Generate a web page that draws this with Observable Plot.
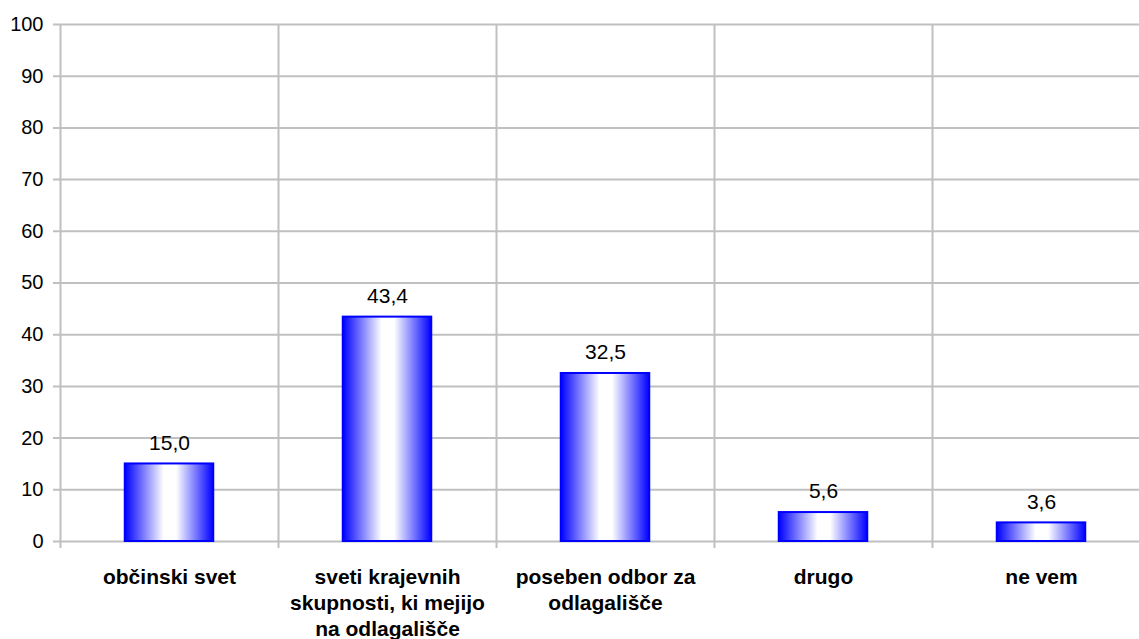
<!DOCTYPE html>
<html>
<head>
<meta charset="utf-8">
<script src="https://cdn.jsdelivr.net/npm/d3@7"></script>
<script src="https://cdn.jsdelivr.net/npm/@observablehq/plot@0.6"></script>
<style>
  html, body { margin: 0; padding: 0; background: #fff; overflow: hidden; }
  #chart svg { display: block; }
</style>
</head>
<body>
<div id="chart"></div>
<script>
const categories = [
  "občinski svet",
  "sveti krajevnih\nskupnosti, ki mejijo\nna odlagališče",
  "poseben odbor za\nodlagališče",
  "drugo",
  "ne vem"
];
const values = [15.0, 43.4, 32.5, 5.6, 3.6];
const yTicks = [0, 10, 20, 30, 40, 50, 60, 70, 80, 90, 100];

const data = categories.map((c, i) => ({category: c, index: i, value: values[i]}));
const boundaries = d3.range(categories.length + 1);
const halfBar = 0.203;

const defs = () => {
  const g = d3.create("svg:defs");
  const lg = g.append("linearGradient").attr("id", "barGrad")
    .attr("x1", "0").attr("x2", "1").attr("y1", "0").attr("y2", "0");
  [[0, "#0000ff"], [0.44, "#ffffff"], [0.58, "#ffffff"], [1, "#0000ff"]].forEach(([o, c]) =>
    lg.append("stop").attr("offset", o).attr("stop-color", c));
  return g.node();
};

const chart = Plot.plot({
  width: 1139,
  height: 639,
  marginTop: 24,
  marginBottom: 98,
  marginLeft: 60,
  marginRight: 0,
  style: {fontFamily: "Arial, 'Liberation Sans', sans-serif", fontSize: "20px", color: "#000", background: "#fff"},
  x: {domain: [0, categories.length], range: [60, 1150], axis: null},
  y: {domain: [0, 100], axis: null},
  marks: [
    defs,
    Plot.ruleY(yTicks, {y: d => d, stroke: "#c0c0c0", strokeWidth: 2, insetLeft: -7}),
    Plot.ruleX(boundaries, {x: d => d, stroke: "#c0c0c0", strokeWidth: 2, insetBottom: -7}),
    Plot.axisY(yTicks, {tickSize: 0, tickPadding: 17, fontSize: 20, fill: "#000", label: null, tickFormat: d => String(d)}),
    Plot.rectY(data, {
      x1: d => d.index + 0.5 - halfBar,
      x2: d => d.index + 0.5 + halfBar,
      y1: 0,
      y2: "value",
      fill: "url(#barGrad)",
      stroke: "#0000ff",
      strokeWidth: 2
    }),
    Plot.text(data, {
      x: d => d.index + 0.5,
      y: "value",
      text: d => d.value.toFixed(1).replace(".", ","),
      dy: -21,
      fontSize: 21,
      fill: "#000"
    }),
    Plot.text(data, {
      x: d => d.index + 0.5,
      frameAnchor: "bottom",
      text: "category",
      lineAnchor: "top",
      lineHeight: 1.24,
      dy: 24,
      fontSize: 21,
      fontWeight: "bold",
      fill: "#000"
    })
  ]
});
document.getElementById("chart").append(chart);
</script>
</body>
</html>
